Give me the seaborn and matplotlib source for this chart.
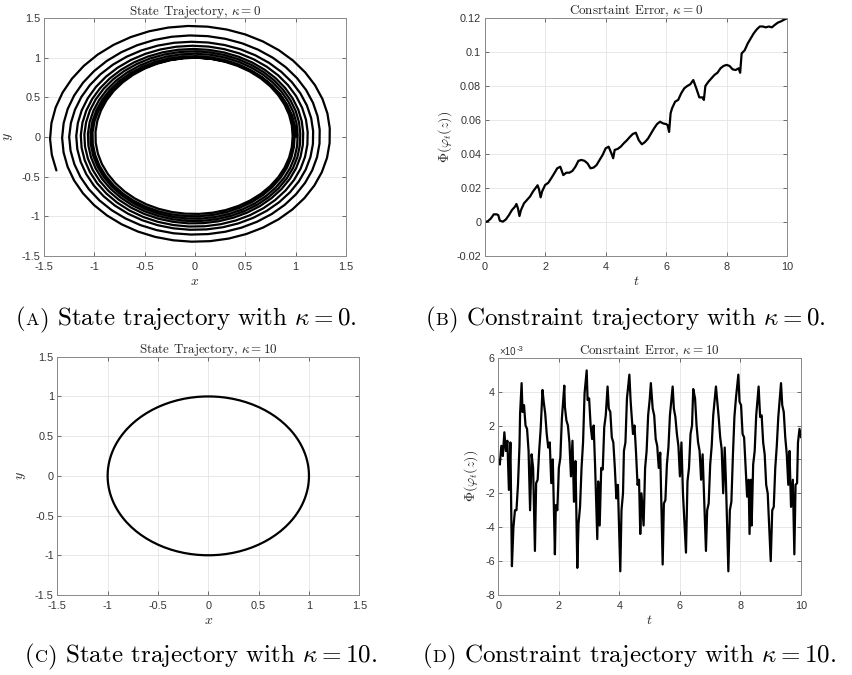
import numpy as np
import pandas as pd
import matplotlib
matplotlib.use("Agg")
import matplotlib.pyplot as plt
import seaborn as sns
from matplotlib.ticker import FixedLocator, FuncFormatter

# ---------------- data ----------------
# Panel A: spiral, radius read at every quarter turn (counter-clockwise, starting at angle 0)
spiral_quarter_deg = [90 * k for k in range(39)] + [3437]
spiral_quarter_r = [1.00, 1.00, 0.99, 0.97, 0.97, 1.00, 1.02, 1.00, 0.99, 1.02,
                    1.04, 1.03, 1.02, 1.05, 1.065, 1.06, 1.046, 1.08, 1.10, 1.09,
                    1.075, 1.11, 1.135, 1.13, 1.12, 1.15, 1.18, 1.17, 1.175, 1.20,
                    1.25, 1.23, 1.24, 1.28, 1.32, 1.32, 1.34, 1.40, 1.44, 1.44]

# Panel B: constraint error, kappa = 0
t_b = [0, 0.1, 0.2, 0.3, 0.4, 0.45, 0.5, 0.6, 0.7, 0.8, 0.9, 1.0, 1.05, 1.1, 1.15, 1.2,
       1.3, 1.4, 1.5, 1.6, 1.7, 1.75, 1.8, 1.85, 1.9, 2.0, 2.1, 2.2, 2.3, 2.4, 2.5, 2.6,
       2.7, 2.8, 2.9, 3.0, 3.1, 3.2, 3.3, 3.4, 3.5, 3.6, 3.7, 3.8, 3.9, 4.0, 4.1, 4.2,
       4.25, 4.3, 4.4, 4.5, 4.6, 4.7, 4.8, 4.9, 5.0, 5.1, 5.2, 5.3, 5.4, 5.5, 5.6, 5.7,
       5.8, 5.9, 6.0, 6.05, 6.1, 6.15, 6.2, 6.3, 6.4, 6.5, 6.6, 6.7, 6.8, 6.9, 7.0, 7.1,
       7.2, 7.25, 7.3, 7.4, 7.5, 7.6, 7.7, 7.8, 7.9, 8.0, 8.1, 8.2, 8.3, 8.4, 8.45, 8.5,
       8.6, 8.7, 8.8, 8.9, 9.0, 9.1, 9.2, 9.3, 9.4, 9.5, 9.6, 9.7, 9.8, 9.9, 10.0]
phi_b = [0.000, 0.0004, 0.002, 0.0045, 0.0045, 0.0040, 0.0008, 0.0002, 0.0015, 0.004,
         0.007, 0.009, 0.0106, 0.008, 0.0035, 0.007, 0.011, 0.013, 0.015, 0.018, 0.0204,
         0.0216, 0.019, 0.0145, 0.018, 0.0218, 0.023, 0.0257, 0.0286, 0.0316, 0.0325,
         0.0276, 0.029, 0.029, 0.030, 0.0325, 0.036, 0.0365, 0.036, 0.0345, 0.0316,
         0.032, 0.0335, 0.0365, 0.0394, 0.0433, 0.0443, 0.040, 0.0375, 0.0424, 0.043,
         0.0443, 0.0463, 0.048, 0.050, 0.0518, 0.0525, 0.048, 0.0457, 0.047, 0.049,
         0.052, 0.055, 0.0576, 0.059, 0.058, 0.0576, 0.057, 0.053, 0.064, 0.067, 0.0708,
         0.0718, 0.0757, 0.0786, 0.080, 0.081, 0.0835, 0.0786, 0.0733, 0.0733, 0.0718,
         0.080, 0.0825, 0.0845, 0.0865, 0.0878, 0.0904, 0.0918, 0.0924, 0.0918, 0.0898,
         0.0894, 0.0904, 0.0878, 0.0992, 0.101, 0.105, 0.108, 0.111, 0.1133, 0.115,
         0.115, 0.1145, 0.115, 0.1145, 0.116, 0.1173, 0.118, 0.119, 0.1198]

# Panel C: circle radius
circle_r = 1.0

# Panel D: constraint error, kappa = 10 (values in units of 1e-3)
t_d = [0, 0.05, 0.1, 0.15, 0.2, 0.25, 0.3, 0.35, 0.4, 0.45, 0.5, 0.55, 0.6, 0.65, 0.7,
       0.72, 0.77, 0.8, 0.85, 0.9, 0.95, 1.0, 1.05, 1.1, 1.15, 1.21, 1.25, 1.3, 1.35,
       1.4, 1.46, 1.5, 1.55, 1.6, 1.65, 1.7, 1.75, 1.8, 1.87, 1.9, 1.95, 2.0, 2.05, 2.1,
       2.18, 2.2, 2.25, 2.3, 2.35, 2.4, 2.45, 2.5, 2.55, 2.61, 2.65, 2.7, 2.75, 2.8,
       2.85, 2.92, 2.95, 3.0, 3.05, 3.1, 3.15, 3.2, 3.27, 3.3, 3.35, 3.4, 3.45, 3.5,
       3.55, 3.61, 3.65, 3.7, 3.75, 3.8, 3.85, 3.9, 3.95, 4.03, 4.07, 4.12, 4.15, 4.2,
       4.25, 4.33, 4.37, 4.4, 4.45, 4.5, 4.55, 4.6, 4.65, 4.69, 4.73, 4.8, 4.85, 4.9,
       4.95, 5.0, 5.04, 5.1, 5.15, 5.2, 5.25, 5.3, 5.35, 5.43, 5.47, 5.52, 5.57, 5.62,
       5.67, 5.76, 5.8, 5.85, 5.9, 5.95, 6.0, 6.05, 6.1, 6.2, 6.25, 6.3, 6.35, 6.4,
       6.44, 6.5, 6.55, 6.6, 6.65, 6.7, 6.75, 6.86, 6.9, 6.95, 7.0, 7.05, 7.1, 7.19,
       7.23, 7.28, 7.33, 7.38, 7.43, 7.48, 7.52, 7.6, 7.65, 7.7, 7.75, 7.8, 7.85, 7.93,
       7.97, 8.02, 8.07, 8.12, 8.17, 8.22, 8.27, 8.3, 8.35, 8.37, 8.42, 8.47, 8.52, 8.6,
       8.65, 8.7, 8.75, 8.8, 8.85, 8.9, 9.0, 9.05, 9.1, 9.15, 9.2, 9.25, 9.34, 9.38,
       9.43, 9.48, 9.53, 9.58, 9.62, 9.67, 9.73, 9.78, 9.82, 9.87, 9.9, 9.95, 10.0]
phi_d = [0, -0.3, 0.8, 0.2, 1.6, 0.5, 1.1, -1.8, 1.0, -6.3, -4.0, -3.0, -3.0, -1.5, 0.8,
         2.7, 4.5, 2.8, 3.2, 2.0, 1.8, 0.5, -3.0, 0.3, -0.5, -5.4, -1.4, -1.2, 0.5,
         1.8, 4.1, 3.4, 2.7, 1.5, 0.7, 1.0, -1.4, 0.0, -5.6, -2.7, -3.0, -0.5, 0.1, 2.4,
         4.35, 3.1, 2.3, 2.0, 1.0, -1.0, 1.1, -2.5, -0.1, -6.4, -3.8, -2.8, -0.5, 1.0,
         3.9, 5.25, 3.5, 3.6, 2.0, 1.2, 2.0, -0.5, -4.7, -1.3, -3.9, -0.5, -0.6, 1.9,
         2.6, 4.3, 3.0, 2.8, 1.3, 1.0, -0.5, -2.3, -1.5, -6.6, -3.0, -2.0, 0.5, 1.0,
         3.6, 5.0, 3.5, 2.7, 1.5, 2.0, 0.4, -1.5, -1.2, -4.4, -2.0, -3.9, -0.5, 0.5,
         2.6, 3.5, 4.5, 3.0, 2.6, 1.2, 0.8, -0.5, 0.4, -6.2, -2.6, -2.4, -0.3, 0.7,
         2.6, 4.3, 3.0, 2.5, 1.5, 0.8, -1.0, 1.0, -2.0, -5.5, -1.3, -0.5, 1.5, 2.0,
         4.15, 3.6, 2.0, 1.0, 0.5, -1.2, 0.3, -5.4, -3.0, -2.6, -0.3, 0.8, 2.6, 4.3,
         3.5, 2.5, 1.3, 0.6, -2.0, 0.7, -1.3, -6.6, -3.0, -2.5, 0.2, 2.5, 3.6, 5.0,
         3.4, 3.2, 1.5, 1.3, -0.5, -2.2, -1.2, -4.4, -1.2, -3.9, -0.3, 0.5, 2.6, 4.3,
         2.5, 2.6, 1.0, 0.3, -1.5, -2.0, -6.0, -3.0, -2.8, -0.5, 0.8, 2.5, 4.5, 3.2,
         2.8, 1.3, 0.3, -1.5, 0.5, -2.8, -1.2, -5.6, -1.5, -1.4, 1.0, 1.8, 1.3]

titles = [r"State Trajectory, $\kappa = 0$", r"Consrtaint Error, $\kappa = 0$",
          r"State Trajectory, $\kappa = 10$", r"Consrtaint Error, $\kappa = 10$"]
captions = [("A", r"State trajectory with $\kappa = 0$."),
            ("B", r"Constraint trajectory with $\kappa = 0$."),
            ("C", r"State trajectory with $\kappa = 10$."),
            ("D", r"Constraint trajectory with $\kappa = 10$.")]

# ---------------- style ----------------
sns.set_theme(style="ticks")
plt.rcParams["font.family"] = ["Liberation Sans", "DejaVu Sans"]
plt.rcParams["mathtext.fontset"] = "cm"
plt.rcParams["axes.unicode_minus"] = False

W, H = 852, 675
fig = plt.figure(figsize=(W / 100, H / 100), dpi=100)

def add_ax(x0, y0, x1, y1):
    return fig.add_axes([x0 / W, 1 - y1 / H, (x1 - x0) / W, (y1 - y0) / H])

axA = add_ax(44, 18, 346, 256)
axB = add_ax(484.7, 18, 787, 256)
axC = add_ax(57.3, 356.7, 359.3, 595)
axD = add_ax(498.3, 357.7, 801, 595)

SERIF = "cmr10"
LINE = dict(color="black", linewidth=1.6, sort=False, estimator=None)

def style(ax, xt, yt, xlim, ylim, title, xlabel, ylabel, ylabelpad=4):
    ax.set_xlim(*xlim)
    ax.set_ylim(*ylim)
    ax.xaxis.set_major_locator(FixedLocator(xt))
    ax.yaxis.set_major_locator(FixedLocator(yt))
    fmt = FuncFormatter(lambda v, p: "%g" % round(v, 6))
    ax.xaxis.set_major_formatter(fmt)
    ax.yaxis.set_major_formatter(fmt)
    ax.grid(True, color="#e4e4e4", linewidth=0.6)
    ax.set_axisbelow(True)
    for s in ax.spines.values():
        s.set_visible(True)
        s.set_color("#8a8a8a")
        s.set_linewidth(0.7)
    ax.tick_params(direction="in", length=3, width=0.6, color="#555555",
                   labelsize=7.8, labelcolor="#333333", pad=2.5,
                   top=True, right=True)
    ax.tick_params(axis="x", pad=4)
    ax.set_title(title, fontsize=9.4, family=SERIF, pad=2.5)
    ax.set_xlabel(xlabel, fontsize=10, labelpad=2)
    ax.set_ylabel(ylabel, fontsize=10, labelpad=ylabelpad)

# Panel A
theta_deg = np.linspace(0, spiral_quarter_deg[-1], 430)
r = np.interp(theta_deg, spiral_quarter_deg, spiral_quarter_r)
theta = np.deg2rad(theta_deg)
dfA = pd.DataFrame({"x": r * np.cos(theta), "y": r * np.sin(theta)})
sns.lineplot(data=dfA, x="x", y="y", ax=axA, **LINE)
ticks15 = [-1.5, -1, -0.5, 0, 0.5, 1, 1.5]
style(axA, ticks15, ticks15, (-1.5, 1.5), (-1.5, 1.5), titles[0], r"$x$", r"$y$", 5)

# Panel B
dfB = pd.DataFrame({"t": t_b, "phi": phi_b})
sns.lineplot(data=dfB, x="t", y="phi", ax=axB, **LINE)
style(axB, [0, 2, 4, 6, 8, 10], [-0.02, 0, 0.02, 0.04, 0.06, 0.08, 0.1, 0.12],
      (0, 10), (-0.02, 0.12), titles[1], r"$t$", r"$\Phi(\varphi_t(z))$", 2)

# Panel C
ang = np.deg2rad(np.linspace(0, 360, 181))
dfC = pd.DataFrame({"x": circle_r * np.cos(ang), "y": circle_r * np.sin(ang)})
sns.lineplot(data=dfC, x="x", y="y", ax=axC, **LINE)
style(axC, ticks15, ticks15, (-1.5, 1.5), (-1.5, 1.5), titles[2], r"$x$", r"$y$", 5)

# Panel D
dfD = pd.DataFrame({"t": t_d, "phi": phi_d})
sns.lineplot(data=dfD, x="t", y="phi", ax=axD, **LINE)
style(axD, [0, 2, 4, 6, 8, 10], [-8, -6, -4, -2, 0, 2, 4, 6],
      (0, 10), (-8, 6), titles[3], r"$t$", r"$\Phi(\varphi_t(z))$", 4)
axD.text(0.005, 1.003, "×10", transform=axD.transAxes, fontsize=7,
         color="#333333", ha="left", va="bottom")
axD.text(0.06, 1.02, "-3", transform=axD.transAxes, fontsize=5.5,
         color="#333333", ha="left", va="bottom")

# ---------------- captions ----------------
renderer = fig.canvas.get_renderer()

def caption(x0, ybase, letter, rest, size=18):
    x = x0
    for s, fs in [("(", size), (letter, size * 0.72), (")", size), (" " + rest, size)]:
        t = fig.text(x / W, 1 - ybase / H, s, fontsize=fs, family=SERIF,
                     ha="left", va="baseline", color="black")
        bb = t.get_window_extent(renderer)
        x = bb.x1

caption(16, 325, *captions[0])
caption(426, 325, *captions[1])
caption(25, 662, *captions[2])
caption(423, 662, *captions[3])

fig.savefig("out.png", dpi=100, facecolor="white")
